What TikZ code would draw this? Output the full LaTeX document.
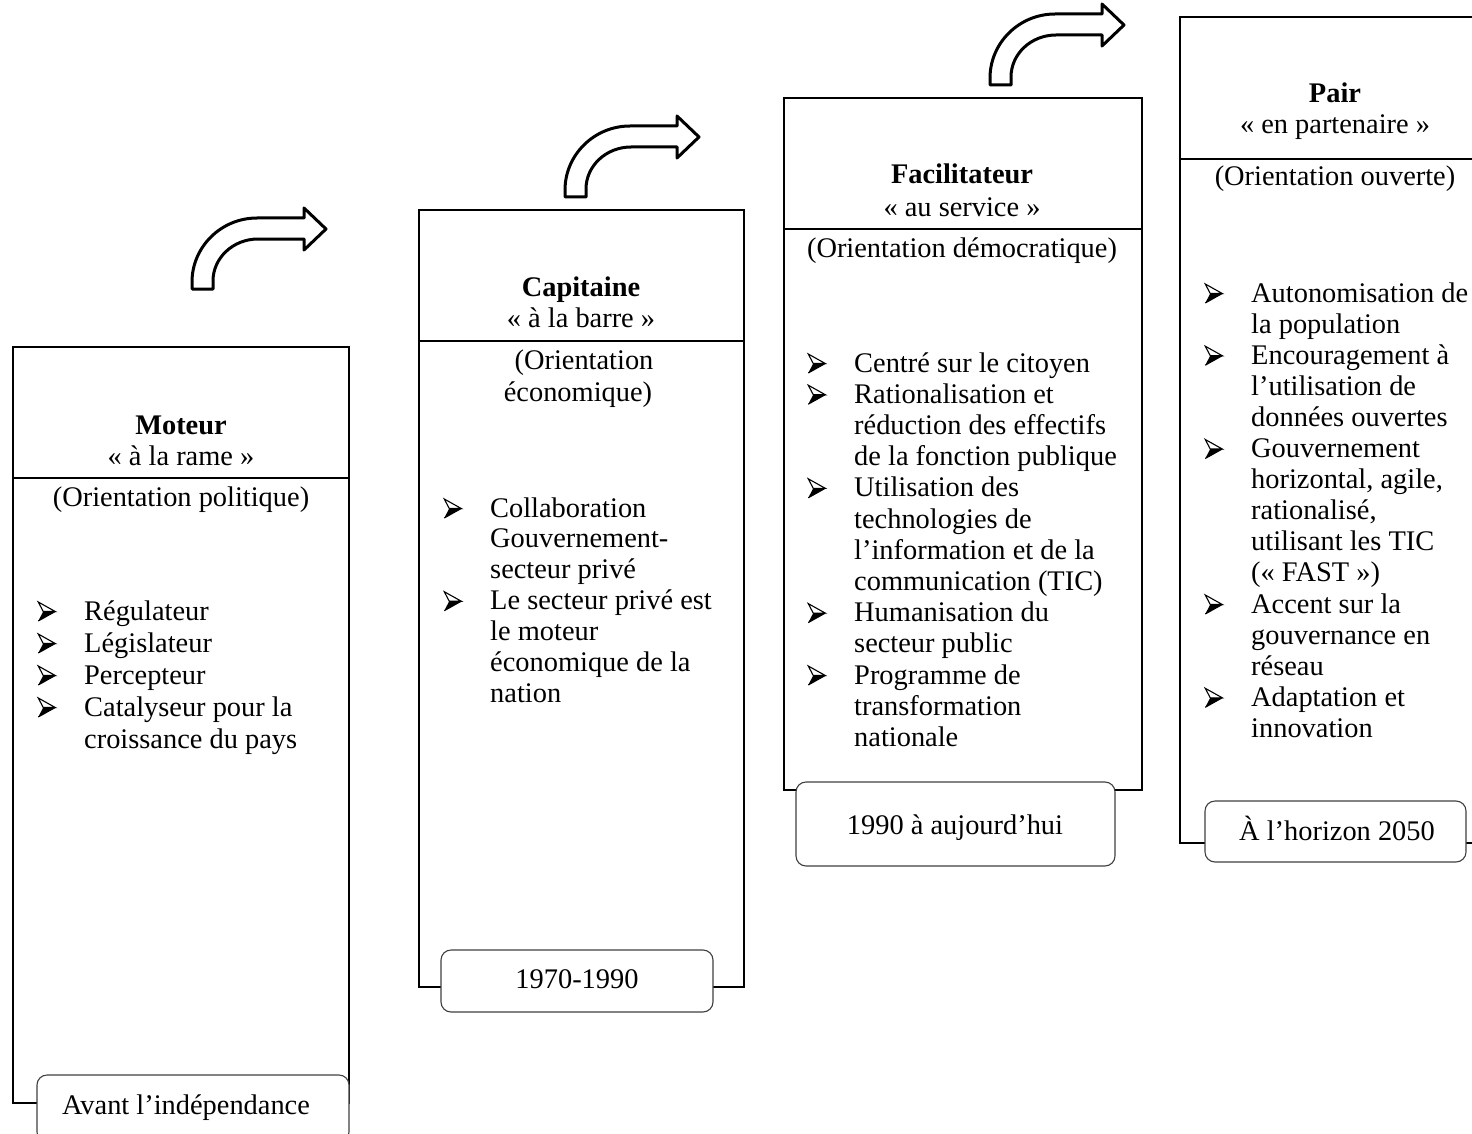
\documentclass[tikz,border=0pt]{standalone}
\usepackage{fontspec}
\setmainfont{Liberation Serif}
\tikzset{
  frame/.style={line width=2.5pt, line join=miter},
  datebox/.style={draw=black!75, line width=1.1pt, fill=white, rounded corners=10pt},
  bentarrow/.style={draw, line width=3pt, line join=round, fill=white},
  txt/.style={inner sep=0pt, font=\fontsize{28.4}{31}\selectfont},
  bentup/.pic={\path[bentarrow] (0,0) -- (0,-7) .. controls (0,-42) and (29,-71) .. (65,-71)
     -- (112,-71) -- (112,-81) -- (134,-60) -- (112,-39) -- (112,-50) -- (66,-50)
     .. controls (41,-50) and (21,-31) .. (21,-8) -- (21,0) -- cycle;}
}
\newcommand\bulmark{\tikz[baseline=0pt,x=1pt,y=1pt,line width=1.1pt]{%
  \fill (0,-1) -- (17,8.5) -- (5,8.5) -- cycle;
  \draw[line join=miter] (0,18) -- (17,8.5) -- (5,8.5) -- cycle;
  \draw (0,-1) -- (17,8.5);}}
\newcommand\nl{\hfil\break}
\newcommand\itm[1]{\par\noindent\hangindent=46.5pt\hangafter=1\makebox[46.5pt][l]{\bulmark}#1\par}
\newenvironment{blist}[1]{\begin{minipage}[t]{420pt}\raggedright\setlength\parskip{0pt}\setlength\baselineskip{#1}}{\end{minipage}}
\begin{document}
\begin{tikzpicture}[x=1pt,y=-1pt]
\useasboundingbox (0,0) rectangle (1472,1134);
\clip (0,0) rectangle (1472,1134);
% arrows
\pic at (192,289) {bentup};
\pic at (565,197) {bentup};
\pic at (990,85) {bentup};
% box 1
\draw[frame] (13,347) rectangle (349,1103);
\draw[frame] (13,478) -- (349,478);
\node[txt, anchor=base] (t1) at (181,434) {\bfseries Moteur};
\node[txt, anchor=base] (s1) at (181,465) {« à la rame »};
\node[txt, anchor=base] (o1) at (181,506) {(Orientation politique)};
\node[txt, anchor=base west] (l1) at (37.5,620) {\begin{blist}{32pt}%
\itm{Régulateur}\itm{Législateur}\itm{Percepteur}\itm{Catalyseur pour la\nl croissance du pays}\end{blist}};
\draw[datebox] (37,1075) rectangle (349,1142);
\node[txt, anchor=base] (d1) at (186,1114) {Avant l’indépendance};
% box 2
\draw[frame] (419,210) rectangle (744,987);
\draw[frame] (419,341) -- (744,341);
\node[txt, anchor=base] (t2) at (581,296) {\bfseries Capitaine};
\node[txt, anchor=base] (s2) at (581,327) {« à la barre »};
\node[txt, anchor=base] (o2) at (584,369) {(Orientation};
\node[txt, anchor=base] (o2b) at (578,401) {économique)};
\node[txt, anchor=base west] (l2) at (443.5,517) {\begin{blist}{30.9pt}%
\itm{Collaboration\nl Gouvernement-\nl secteur privé}\itm{Le secteur privé est\nl le moteur\nl économique de la\nl nation}\end{blist}};
\draw[datebox] (441,950) rectangle (713,1012);
\node[txt, anchor=base] (d2) at (577,988) {1970-1990};
% box 3
\draw[frame] (784,98) rectangle (1142,790);
\draw[frame] (784,229) -- (1142,229);
\node[txt, anchor=base] (t3) at (962,184) {\bfseries Facilitateur};
\node[txt, anchor=base] (s3) at (962,216) {« au service »};
\node[txt, anchor=base] (o3) at (962,257) {(Orientation démocratique)};
\node[txt, anchor=base west] (l3) at (807.5,372) {\begin{blist}{31.2pt}%
\itm{Centré sur le citoyen}\itm{Rationalisation et\nl réduction des effectifs\nl de la fonction publique}\itm{Utilisation des\nl technologies de\nl l’information et de la\nl communication (TIC)}\itm{Humanisation du\nl secteur public}\itm{Programme de\nl transformation\nl nationale}\end{blist}};
\draw[datebox] (796,782) rectangle (1115,866);
\node[txt, anchor=base] (d3) at (955,834) {1990 à aujourd’hui};
% box 4
\draw[frame] (1180,17) rectangle (1495,843);
\draw[frame] (1180,159) -- (1495,159);
\node[txt, anchor=base] (t4) at (1335,103) {\bfseries Pair};
\node[txt, anchor=base] (s4) at (1335,134) {« en partenaire »};
\node[txt, anchor=base] (o4) at (1335,186) {(Orientation ouverte)};
\node[txt, anchor=base west] (l4) at (1204.5,302) {\begin{blist}{31.1pt}%
\itm{Autonomisation de\nl la population}\itm{Encouragement à\nl l’utilisation de\nl données ouvertes}\itm{Gouvernement\nl horizontal, agile,\nl rationalisé,\nl utilisant les TIC\nl (« FAST »)}\itm{Accent sur la\nl gouvernance en\nl réseau}\itm{Adaptation et\nl innovation}\end{blist}};
\draw[datebox] (1205,801) rectangle (1466,862);
\node[txt, anchor=base] (d4) at (1337,840) {À l’horizon 2050};
\end{tikzpicture}
\end{document}
